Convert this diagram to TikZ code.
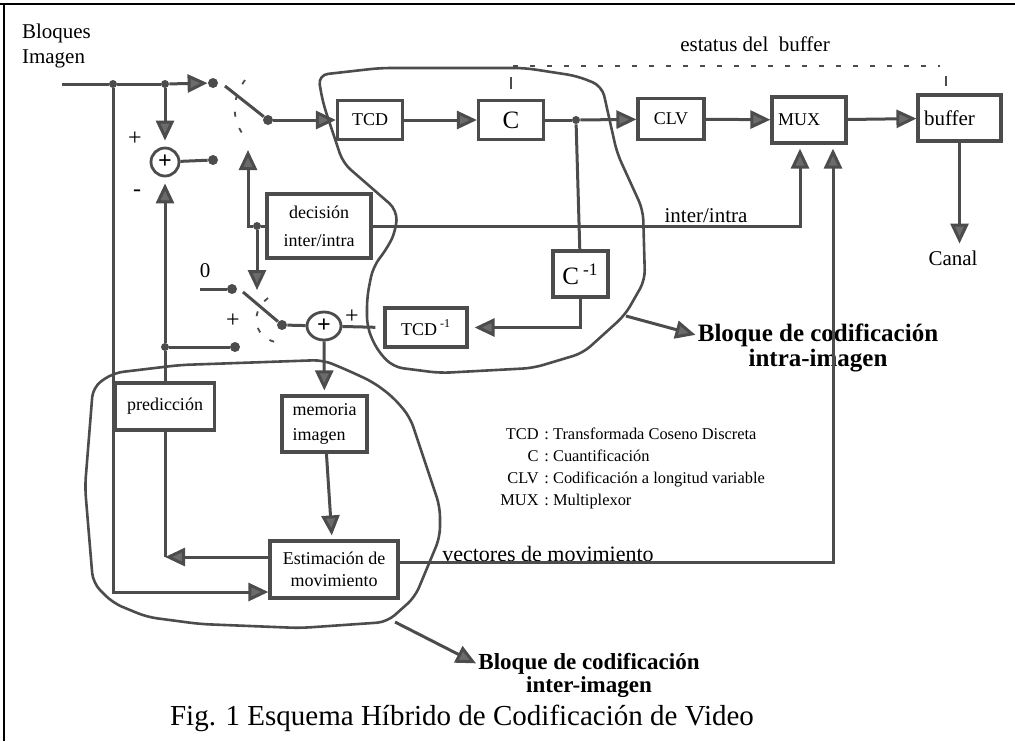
\documentclass[tikz,border=0pt]{standalone}
\usepackage{fontspec}
\setmainfont{Liberation Serif}
\usetikzlibrary{arrows.meta, positioning, shapes.geometric}

\definecolor{inkgray}{gray}{0.30}
\definecolor{headgray}{gray}{0.42}

\tikzset{
  wire/.style={draw=inkgray, line width=1.5pt},
  arr/.style={wire, -{Triangle[length=10pt, width=9pt, fill=headgray]}},
  blk/.style={draw=inkgray, line width=1.6pt, inner sep=2pt, font=\fontsize{9}{11}\selectfont},
  dot/.style={circle, fill=inkgray, inner sep=0pt, minimum size=5pt},
  jdot/.style={circle, fill=inkgray, inner sep=0pt, minimum size=4pt},
  sumnode/.style={circle, draw=inkgray, line width=1.4pt, inner sep=0pt, minimum size=14pt, font=\fontsize{12}{12}\selectfont\bfseries},
  blob/.style={draw=inkgray, line width=1.3pt, rounded corners=5pt},
  throw/.style={draw=inkgray, line width=0.9pt, dash pattern=on 2.5pt off 6pt},
  lbl/.style={font=\fontsize{10.5}{12.5}\selectfont},
  legend/.style={inner sep=1pt, font=\fontsize{8.2}{10}\selectfont},
  bigbold/.style={inner sep=1pt, font=\fontsize{11.5}{13}\selectfont\bfseries},
}

\begin{document}
\begin{tikzpicture}[x=0.5pt, y=-0.5pt]
\useasboundingbox (0,0) rectangle (1015,741);
% frame of the figure
\draw[line width=1pt] (0,4) -- (1015,4);
\draw[line width=1pt] (4,4) -- (4,741);

% blocks
\node[blk, minimum width=32.5pt, minimum height=19.5pt] (tcd) at (370,120) {TCD};
\node[blk, minimum width=32.5pt, minimum height=19.5pt, font=\fontsize{12.5}{14}\selectfont] (cq) at (511,120) {C};
\node[blk, minimum width=33pt, minimum height=20.5pt] (clv) at (671,119) {CLV};
\node[blk, minimum width=37pt, minimum height=23pt, inner xsep=3pt, text width=31pt, align=left] (mux) at (809,120) {MUX};
\node[blk, minimum width=41.5pt, minimum height=23pt, inner xsep=3pt, text width=35.5pt, align=left, font=\fontsize{10.5}{12}\selectfont] (buf) at (959.5,118) {buffer};
\node[blk, minimum width=52pt, minimum height=32pt, align=center] (dec) at (319,226) {decisión\\[3pt]inter/intra};
\node[blk, minimum width=27.5pt, minimum height=23pt, font=\fontsize{12.5}{14}\selectfont] (cinv) at (580.5,274) {C\,\textsuperscript{-1}};
\node[blk, minimum width=41pt, minimum height=19.5pt] (tcdinv) at (426,327.5) {TCD\,\textsuperscript{-1}};
\node[blk, minimum width=49.5pt, minimum height=23.5pt] (pred) at (165,406.5) {predicción};
\node[blk, minimum width=42.5pt, minimum height=28pt, align=left, font=\fontsize{9}{12.5}\selectfont] (mem) at (324.5,424) {memoria\\imagen};
\node[blk, minimum width=64pt, minimum height=28.5pt, align=center] (est) at (334,569.5) {Estimación de\\movimiento};

% adders
\node[sumnode] (add1) at (165,162) {+};
\node[sumnode, ellipse, minimum width=17pt, minimum height=14pt] (add2) at (324,326) {+};

% switch contacts and junctions
\node[dot] (s1a) at (213,83) {};
\node[dot] (s1b) at (213,160) {};
\node[dot] (p1) at (268,120) {};
\node[dot] (s2a) at (232,289) {};
\node[dot] (s2b) at (235,347) {};
\node[dot] (p2) at (282,325) {};
\node[jdot] (j1) at (113,84) {};
\node[jdot] (j2) at (165,84) {};
\node[jdot] (j3) at (576,120) {};
\node[jdot] (j4) at (257,226) {};
\node[jdot] (j5) at (165,347) {};

\coordinate (in) at (62,84);
\coordinate (blade1) at (225,86);
\coordinate (blade2) at (243,292);
\coordinate (zero) at (200,289);
\coordinate (ctl1) at (248,150);
\coordinate (ctl2) at (257,290);
\coordinate (predend) at (165,557);
\coordinate (st1) at (513,66);
\coordinate (st2) at (940,66);
\coordinate (intraedge) at (626,316);
\coordinate (interedge) at (395,622);

% texts
\node[lbl, align=left, anchor=north west] (bloques) at (15,17) {Bloques\\Imagen};
\node[lbl, font=\fontsize{12}{12}\selectfont] (plus1) at (135,139) {+};
\node[lbl, font=\fontsize{12}{12}\selectfont] (minus1) at (137,193) {-};
\node[lbl] (zerolbl) at (205,271) {0};
\node[lbl, font=\fontsize{12}{12}\selectfont] (plus2) at (233,321) {+};
\node[lbl, font=\fontsize{12}{12}\selectfont] (plus3) at (352,317) {+};
\node[lbl] (status) at (755,44) {estatus del\ \ buffer};
\node[lbl, anchor=base] (iilbl) at (706,222) {inter/intra};
\node[lbl] (canal) at (953,258) {Canal};
\node[lbl, anchor=base, font=\fontsize{11}{13}\selectfont] (veclbl) at (548,561) {vectores de movimiento};

\foreach \ab/\txt [count=\i] in {TCD/Transformada Coseno Discreta, C/Cuantificación, CLV/Codificación a longitud variable, MUX/Multiplexor} {
  \node[legend, anchor=base east] (ab\i) at (541,416.7+22.3*\i) {\ab};
  \node[legend, anchor=base west] (tx\i) at (542,416.7+22.3*\i) {:~\txt};
}

\node[bigbold, anchor=base, font=\fontsize{12.5}{14}\selectfont\bfseries] (intra1) at (818,341) {Bloque de codificación};
\node[bigbold, anchor=base, font=\fontsize{12.5}{14}\selectfont\bfseries] (intra2) at (818,366) {intra-imagen};
\node[bigbold, anchor=base] (inter1) at (589,669) {Bloque de codificación};
\node[bigbold, anchor=base] (inter2) at (589,692) {inter-imagen};

\node[font=\fontsize{14.5}{17}\selectfont] (caption) at (462,718) {Fig. 1 Esquema Híbrido de Codificación de Video};

% forward path
\draw[wire] (in) -- (j1) -- (j2);
\draw[arr] (j2) -- (s1a);
\draw[arr, shorten >=3pt] (j2) -- (add1);
\draw[wire] (add1) -- (s1b);
\draw[wire] (p1) -- (blade1);
\draw[throw] (245,80) .. controls (232,98) and (231,118) .. (244,136);
\draw[arr] (p1) -- (tcd);
\draw[arr] (tcd) -- (cq);
\draw[wire] (cq) -- (j3);
\draw[arr] (j3) -- (clv);
\draw[arr] (clv) -- (mux);
\draw[arr] (mux) -- (buf);
\draw[arr] (buf.south) -- (buf.south |- canal.north);
\draw[wire, line width=1.1pt] ([yshift=5pt]cq.north) -- ([yshift=11pt]cq.north);
\draw[wire, line width=1.1pt] ([xshift=-6.75pt, yshift=3.5pt]buf.north) -- ([xshift=-6.75pt, yshift=8.5pt]buf.north);
\draw[wire, line width=1pt, dash pattern=on 2.5pt off 6pt] (st1) -- (st2);

% local decoder
\draw[wire] (j3) -- (cinv);
\draw[arr, shorten >=3pt] (cinv.south) |- (tcdinv.east);
\draw[wire, shorten <=4pt] (tcdinv.west) -- (add2);
\draw[wire] (zero) -- (s2a);
\draw[wire] (p2) -- (blade2);
\draw[throw] (268,298) .. controls (250,312) and (253,336) .. (275,342);
\draw[wire] (p2) -- (add2);
\draw[arr, shorten >=2pt] (add2) -- (mem);
\draw[arr, shorten >=2pt] (mem) -- (est);

% decision inter/intra
\draw[wire] (dec.west) -- (j4);
\draw[arr] (j4) -| (ctl1);
\draw[arr] (j4) -- (ctl2);
\draw[arr, shorten >=2pt] (dec.east) -| ([xshift=-4.5pt]mux.south);

% motion estimation and prediction
\draw[arr, shorten >=2pt] ([yshift=3.75pt]est.east) -| ([xshift=12pt]mux.south);
\draw[wire] (pred.south) -- (predend);
\draw[arr] (est.west |- predend) -- (predend);
\draw[wire] (pred.north) -- (j5);
\draw[arr, shorten >=3pt] (j5) -- (add1);
\draw[wire] (j5) -- (s2b);
\draw[arr] (j1) |- ([yshift=-11.25pt]est.west);

% coding blocks
\draw[blob] (318,75) -- (380,68) -- (525,68) -- (577,76) -- (602,86) -- (617,153) -- (643,210) -- (645,280) -- (625,315) -- (583,353) -- (533,368) -- (440,373) -- (393,367) -- (377,350) -- (367,327) -- (367,297) -- (373,267) -- (388,247) -- (396,230) -- (397,210) -- (343,163) -- (323,103) -- cycle;
\draw[blob] (93,387) -- (113,373) -- (180,365) -- (323,360) -- (347,370) -- (373,382) -- (393,397) -- (410,417) -- (440,507) -- (440,537) -- (415,597) -- (387,622) -- (300,628) -- (200,624) -- (147,617) -- (113,603) -- (93,583) -- (85,487) -- cycle;
\draw[arr] (intraedge) -- (intra1.west);
\draw[arr] (interedge) -- (inter1.west);
\end{tikzpicture}
\end{document}
